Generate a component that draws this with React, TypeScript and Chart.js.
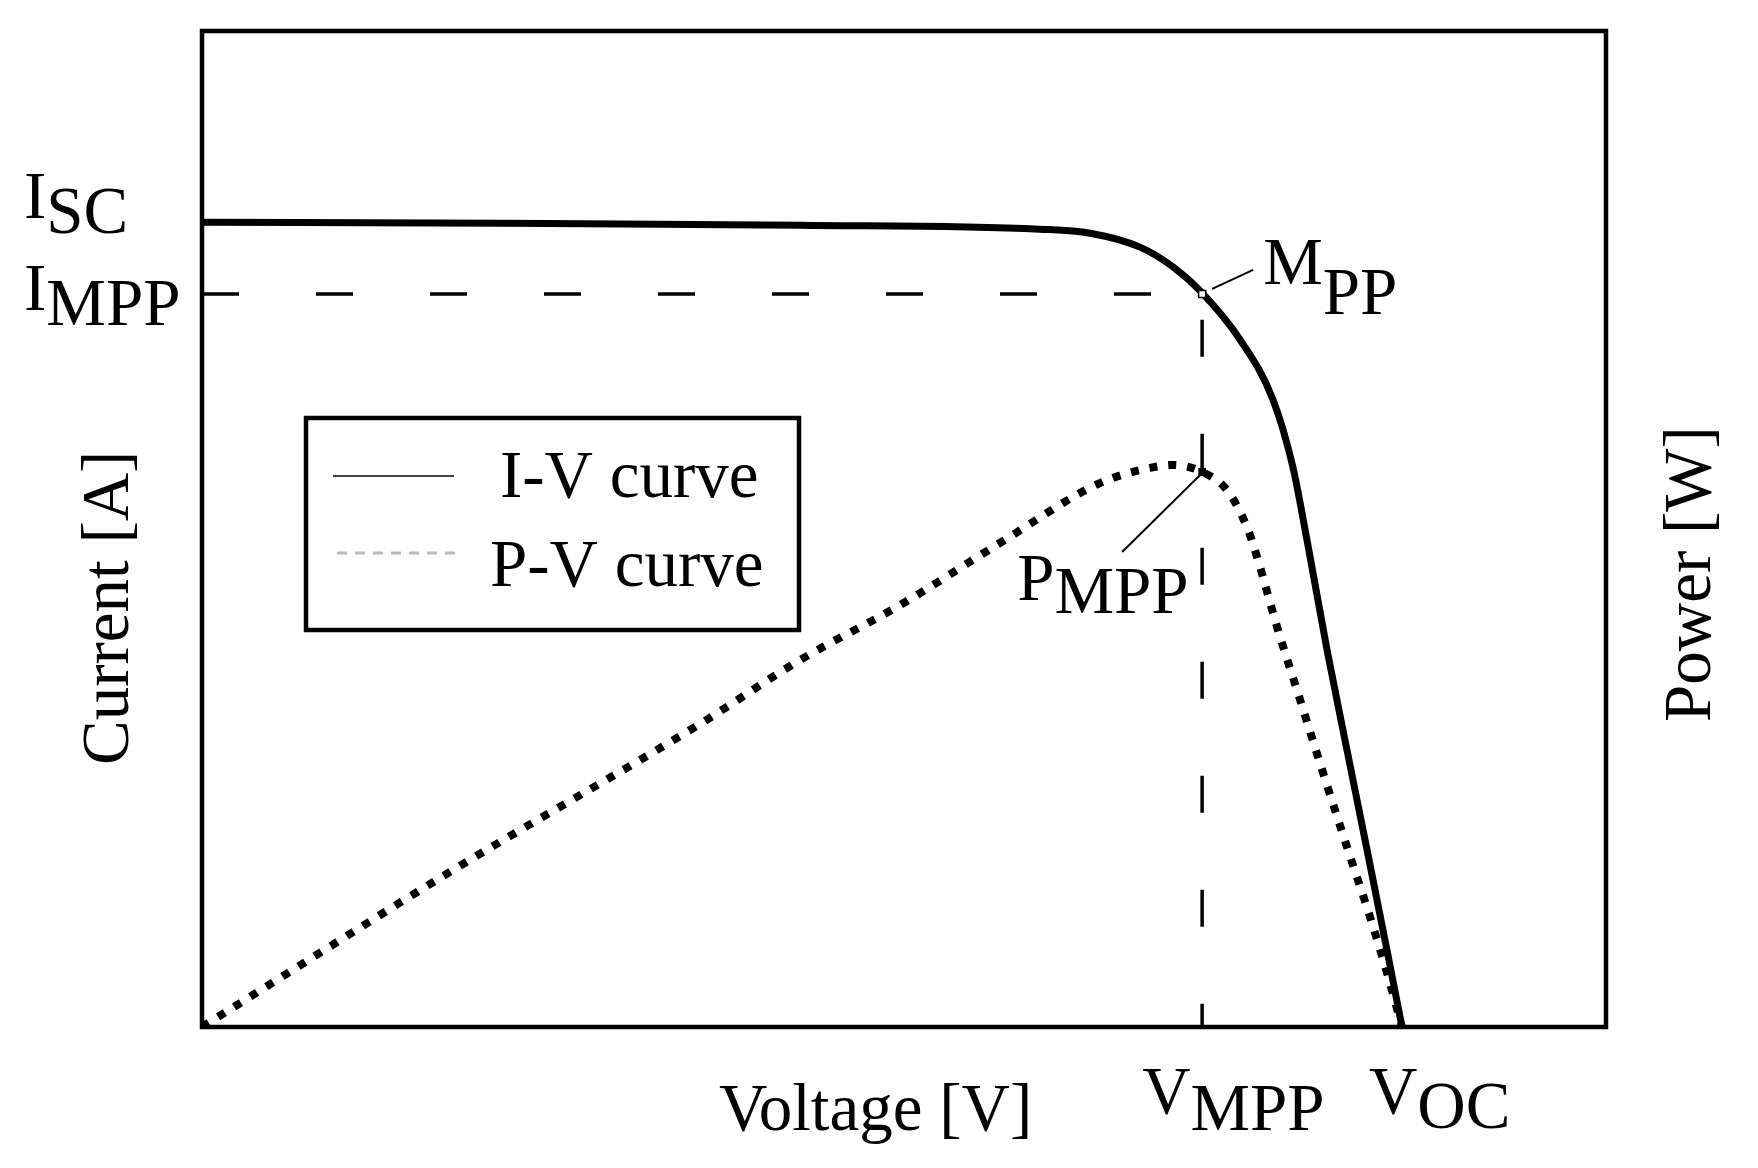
import React, { useEffect, useRef } from "react";
import { Chart, registerables } from "chart.js";

Chart.register(...registerables);

// I-V curve (voltage in V, current in A)
const voltageIV = [0, 9.98, 20.02, 28.05, 29.73, 31.4, 32.51, 33.48, 34.75, 35.85, 36.52, 36.99, 37.66, 38.33, 39.0, 39.67, 40.17];
const currentIV = [8.08, 8.07, 8.05, 8.01, 7.97, 7.83, 7.63, 7.37, 6.9, 6.3, 5.62, 4.89, 3.79, 2.78, 1.78, 0.77, 0];

// P-V curve (voltage in V, power in W)
const voltagePV = [0, 8.3, 16.77, 20.02, 23.37, 26.71, 30.06, 31.74, 32.51, 33.48, 34.31, 34.98, 35.32, 35.99, 36.76, 37.53, 38.33, 39.1, 39.67, 40.17];
const powerPV = [0, 68.5, 134.7, 162.1, 186.4, 213.8, 240.3, 247.0, 248.3, 245.2, 237.2, 220.9, 207.6, 176.7, 144.5, 112.2, 79.5, 48.6, 23.9, 0];

// Key points
const ISC = 8.08;
const IMPP = 7.36;
const VMPP = 33.48;
const VOC = 40.17;
const PMPP = 245.2;

// Axis ranges
const xRange = [0, 47];
const currentRange = [0, 10];
const powerRange = [0, 440];

const seriesLabels = ["I-V curve", "P-V curve"];
const axisTitles = ["Voltage [V]", "Current [A]", "Power [W]"];

export default function App() {
  const ref = useRef<HTMLCanvasElement | null>(null);

  useEffect(() => {
    const canvas = ref.current;
    if (!canvas) return;
    const FONT = '67px "Liberation Serif", "Times New Roman", serif';

    const annot = {
      id: "annot",
      afterDraw(chart: any) {
        const { ctx, chartArea: ca, scales } = chart;
        const xs = scales.x;
        const ys = scales.y;
        const yp = scales.y1;
        ctx.save();

        // frame
        ctx.strokeStyle = "#000";
        ctx.lineWidth = 4.5;
        ctx.setLineDash([]);
        ctx.strokeRect(ca.left, ca.top, ca.right - ca.left, ca.bottom - ca.top);

        ctx.fillStyle = "#000";
        ctx.font = FONT;
        ctx.textAlign = "left";
        ctx.textBaseline = "alphabetic";
        const sub = (main: string, s: string, x: number, y: number, dy: number) => {
          ctx.fillText(main, x, y);
          const w = ctx.measureText(main).width;
          ctx.fillText(s, x + w, y + dy);
        };

        const xM = xs.getPixelForValue(VMPP);
        const yM = ys.getPixelForValue(IMPP);
        const yP = yp.getPixelForValue(PMPP);
        const xOC = xs.getPixelForValue(VOC);

        // y labels
        sub("I", "SC", 24, ys.getPixelForValue(ISC) - 4, 15);
        sub("I", "MPP", 24, yM + 16, 15);

        // MPP label + leader
        sub("M", "PP", xM + 61, yM - 10, 30);
        ctx.lineWidth = 2;
        ctx.beginPath();
        ctx.moveTo(xM + 10, yM - 5);
        ctx.lineTo(xM + 51, yM - 24);
        ctx.stroke();

        // PMPP label + leader
        sub("P", "MPP", xM - 185, yP + 128, 13);
        ctx.beginPath();
        ctx.moveTo(xM - 2, yP + 3);
        ctx.lineTo(xM - 80, yP + 80);
        ctx.stroke();

        // x labels
        sub("V", "MPP", xM - 60, ca.bottom + 86, 17);
        sub("V", "OC", xOC - 33, ca.bottom + 86, 15);
        ctx.fillText(axisTitles[0], 719, ca.bottom + 103);

        // rotated axis titles
        ctx.save();
        ctx.translate(128, 765);
        ctx.rotate(-Math.PI / 2);
        ctx.fillText(axisTitles[1], 0, 0);
        ctx.restore();
        ctx.save();
        ctx.translate(1710, 722);
        ctx.rotate(-Math.PI / 2);
        ctx.fillText(axisTitles[2], 0, 0);
        ctx.restore();

        // legend
        ctx.lineWidth = 4.5;
        ctx.strokeStyle = "#000";
        ctx.strokeRect(306, 418, 493, 212);
        ctx.strokeStyle = "#444";
        ctx.lineWidth = 2;
        ctx.beginPath();
        ctx.moveTo(333, 476);
        ctx.lineTo(454, 476);
        ctx.stroke();
        ctx.strokeStyle = "#b8b8b8";
        ctx.lineWidth = 3;
        ctx.setLineDash([10, 8]);
        ctx.beginPath();
        ctx.moveTo(337, 553);
        ctx.lineTo(459, 553);
        ctx.stroke();
        ctx.setLineDash([]);
        ctx.fillStyle = "#000";
        ctx.fillText(chart.data.datasets[2].label, 500, 497);
        ctx.fillText(chart.data.datasets[3].label, 490, 586);

        ctx.restore();
      },
    };

    const chart = new Chart(canvas, {
      type: "line",
      data: {
        datasets: [
          {
            label: "MPP",
            data: [{ x: VMPP, y: IMPP }],
            yAxisID: "y",
            showLine: false,
            pointStyle: "rect",
            pointRadius: 5,
            pointBackgroundColor: "#fff",
            pointBorderColor: "#000",
            pointBorderWidth: 1.5,
          },
          {
            label: "PMPP",
            data: [{ x: VMPP, y: PMPP }],
            yAxisID: "y1",
            showLine: false,
            pointStyle: "rect",
            pointRadius: 5.5,
            pointBackgroundColor: "#000",
            pointBorderColor: "#000",
            pointBorderWidth: 0,
          },
          {
            label: seriesLabels[0],
            data: voltageIV.map((v, i) => ({ x: v, y: currentIV[i] })),
            yAxisID: "y",
            borderColor: "#000",
            borderWidth: 7,
            pointRadius: 0,
            cubicInterpolationMode: "monotone",
            fill: false,
          },
          {
            label: seriesLabels[1],
            data: voltagePV.map((v, i) => ({ x: v, y: powerPV[i] })),
            yAxisID: "y1",
            borderColor: "#000",
            borderWidth: 8,
            borderDash: [8, 11],
            pointRadius: 0,
            cubicInterpolationMode: "monotone",
            fill: false,
          },
          {
            label: "guides",
            data: [
              { x: xRange[0], y: IMPP },
              { x: VMPP, y: IMPP },
              { x: VMPP, y: currentRange[0] },
            ],
            yAxisID: "y",
            borderColor: "#000",
            borderWidth: 3.5,
            borderDash: [37, 77],
            pointRadius: 0,
            tension: 0,
            fill: false,
          },
        ],
      },
      options: {
        responsive: false,
        animation: false,
        devicePixelRatio: 1,
        layout: { padding: { left: 202, top: 31, right: 152, bottom: 141 } },
        plugins: { legend: { display: false }, tooltip: { enabled: false }, title: { display: false } },
        events: [],
        scales: {
          x: { type: "linear", min: xRange[0], max: xRange[1], display: false },
          y: { type: "linear", min: currentRange[0], max: currentRange[1], display: false },
          y1: { type: "linear", position: "right", min: powerRange[0], max: powerRange[1], display: false },
        },
      },
      plugins: [annot],
    } as any);

    return () => chart.destroy();
  }, []);

  return (
    <div style={{ position: "absolute", left: 0, top: 0, width: 1758, height: 1168, background: "#fff" }}>
      <canvas ref={ref} width={1758} height={1168} style={{ display: "block" }} />
    </div>
  );
}
